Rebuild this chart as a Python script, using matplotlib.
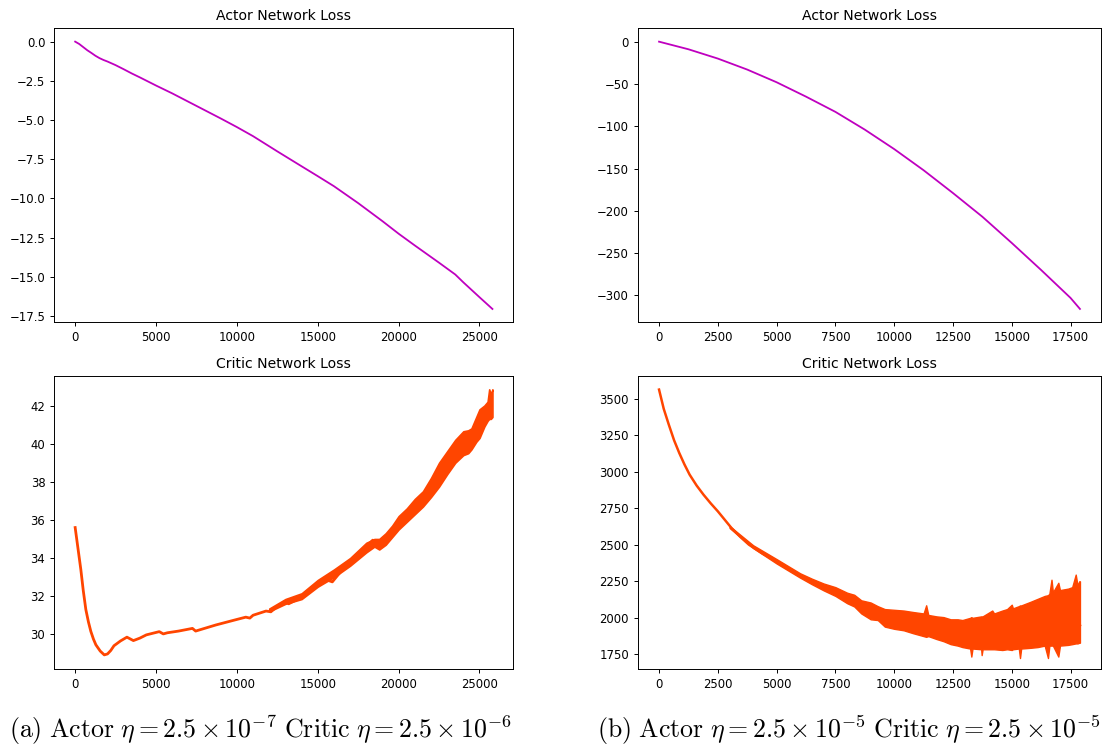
import numpy as np
import matplotlib
matplotlib.use("Agg")
import matplotlib.pyplot as plt
from matplotlib.ticker import MultipleLocator

plt.rcParams['mathtext.fontset'] = 'cm'

# ---- (a) actor loss
actor_a_x = [0, 250, 500, 750, 1000, 1250, 1500, 1750, 2000, 2500, 3000, 3500, 4000, 5000,
             6000, 7500, 9000, 10000, 11000, 12500, 14000, 15000, 16000, 17500, 19000,
             20000, 21000, 22500, 23500, 24000, 25000, 25800]
actor_a_y = [0, -0.15, -0.35, -0.55, -0.72, -0.9, -1.05, -1.17, -1.27, -1.5, -1.76, -2.03,
             -2.28, -2.8, -3.3, -4.1, -4.9, -5.45, -6.03, -7.0, -7.95, -8.58, -9.22, -10.3,
             -11.45, -12.25, -13.0, -14.1, -14.85, -15.35, -16.3, -17.05]

# ---- (b) actor loss
actor_b_x = [0, 1250, 2500, 3750, 5000, 6250, 7500, 8750, 10000, 11250, 12500, 13750, 15000,
             16250, 17500, 17900]
actor_b_y = [0, -9, -20, -33, -48, -65, -83, -104, -127, -152, -179, -207, -238, -270, -303,
             -316]

# ---- (a) critic loss, centre line
critic_a_x = [0, 175, 350, 500, 660, 820, 970, 1130, 1280, 1550, 1800, 2000, 2200, 2400,
              2800, 3200, 3600, 4000, 4400, 5200, 5450, 5700, 6400, 7250, 7450, 8700, 10000,
              10550, 10800, 11000, 11800, 12100, 12400, 13000, 13200, 13450, 14000, 15000,
              15600, 15900, 16750, 17600, 18400, 18800, 19000, 20000, 21300, 22500, 23750,
              25000, 25700]
critic_a_y = [35.6, 34.5, 33.4, 32.3, 31.3, 30.65, 30.15, 29.75, 29.45, 29.12, 28.92, 28.97,
              29.15, 29.4, 29.65, 29.85, 29.67, 29.8, 29.97, 30.14, 30.02, 30.08, 30.17, 30.31,
              30.17, 30.49, 30.78, 30.9, 30.85, 31.0, 31.22, 31.18, 31.4, 31.71, 31.6, 31.71,
              31.95, 32.67, 32.84, 32.75, 33.63, 34.24, 34.94, 34.6, 34.7, 35.9, 37.03, 38.42,
              39.82, 41.1, 42.0]
# noisy band (lower / upper envelope)
band_a_x = [12000, 13000, 14000, 15000, 16000, 17000, 18000, 18500, 18800, 19200, 19600,
            20000, 20500, 21000, 21500, 22000, 22500, 23000, 23500, 24000, 24300, 24500,
            24800, 25000, 25300, 25500, 25600, 25700, 25800]
band_a_lo = [31.2, 31.6, 31.85, 32.5, 33.0, 33.6, 34.3, 34.6, 34.45, 34.7, 35.1, 35.5, 35.9,
             36.3, 36.7, 37.2, 37.75, 38.4, 39.0, 39.4, 39.5, 39.7, 40.1, 40.3, 40.9, 41.2,
             41.3, 41.3, 41.4]
band_a_hi = [31.35, 31.85, 32.15, 32.85, 33.4, 34.0, 34.8, 35.0, 35.0, 35.3, 35.7, 36.2,
             36.6, 37.1, 37.5, 38.2, 39.0, 39.6, 40.2, 40.65, 40.7, 40.8, 41.4, 41.8, 42.0,
             42.2, 42.85, 42.6, 42.85]

# ---- (b) critic loss, centre line
critic_b_x = [0, 200, 415, 640, 860, 1080, 1300, 1600, 1890, 2200, 2500, 2800, 3080, 3450,
              3820, 4400, 5000, 5500, 6035, 6750, 7500, 8100, 8700, 9300, 10000, 10600, 11210,
              11850, 12500, 13100, 13730, 14350, 15000, 15600, 16240, 16900, 17500, 17900]
critic_b_y = [3562, 3430, 3322, 3215, 3128, 3050, 2980, 2905, 2843, 2783, 2729, 2670, 2615,
              2555, 2501, 2440, 2387, 2335, 2284, 2230, 2181, 2130, 2079, 2040, 2010, 1985,
              1965, 1940, 1920, 1905, 1896, 1893, 1896, 1905, 1920, 1925, 1930, 1950]
band_b_x = [3000, 4000, 5000, 6000, 6500, 7000, 7500, 8000, 8300, 8600, 9000, 9300, 9600,
            10000, 10400, 10800, 11250, 11360, 11450, 11800, 12100, 12400, 12700, 12900,
            13230, 13280, 13330, 13700, 13720, 13760, 14170, 14250, 14600, 14800, 15000,
            15050, 15300, 15350, 15400, 15800, 16100, 16400, 16540, 16600, 16690, 16750,
            16980, 17050, 17400, 17570, 17720, 17800, 17870, 17900]
band_b_lo = [2615, 2478, 2372, 2275, 2230, 2188, 2150, 2100, 2078, 2030, 1990, 1985, 1940,
             1925, 1915, 1895, 1875, 1870, 1875, 1855, 1840, 1820, 1810, 1800, 1790, 1735,
             1790, 1785, 1745, 1785, 1785, 1785, 1780, 1785, 1780, 1785, 1790, 1725, 1790,
             1795, 1800, 1810, 1725, 1810, 1810, 1810, 1735, 1810, 1815, 1820, 1825, 1825,
             1830, 1830]
band_b_hi = [2628, 2497, 2402, 2305, 2268, 2235, 2210, 2172, 2158, 2120, 2105, 2080, 2060,
             2055, 2050, 2040, 2030, 2086, 2020, 2010, 2005, 1990, 1990, 1985, 2000, 2005,
             2000, 2010, 2010, 2010, 2050, 2030, 2050, 2060, 2090, 2065, 2080, 2085, 2085,
             2110, 2130, 2150, 2155, 2165, 2261, 2175, 2240, 2190, 2200, 2210, 2296, 2220,
             2250, 2250]

captions = [r"$\mathrm{(a)\ Actor}\ \eta = 2.5 \times 10^{-7}\ \mathrm{Critic}\ \eta = 2.5 \times 10^{-6}$",
            r"$\mathrm{(b)\ Actor}\ \eta = 2.5 \times 10^{-5}\ \mathrm{Critic}\ \eta = 2.5 \times 10^{-5}$"]

actor_c = '#bf00bf'
critic_c = '#ff4500'

fig = plt.figure(figsize=(11.04, 7.46), dpi=100)
W, H = 1104, 746

def box(l, t, r, b):
    return [l / W, 1 - b / H, (r - l) / W, (b - t) / H]

ax1 = fig.add_axes(box(54.3, 28.3, 513.3, 322.3))
ax2 = fig.add_axes(box(54.3, 376, 513.3, 669))
ax3 = fig.add_axes(box(638, 28.3, 1101, 322.3))
ax4 = fig.add_axes(box(638, 376, 1101, 669))

ax1.plot(actor_a_x, actor_a_y, color=actor_c, lw=1.3)
ax3.plot(actor_b_x, actor_b_y, color=actor_c, lw=1.3)

ax2.plot(critic_a_x, critic_a_y, color=critic_c, lw=2.0)
ax2.fill_between(band_a_x, band_a_lo, band_a_hi, color=critic_c, lw=1.2, edgecolor=critic_c)

ax4.plot(critic_b_x, critic_b_y, color=critic_c, lw=1.8)
ax4.fill_between(band_b_x, band_b_lo, band_b_hi, color=critic_c, lw=1.0, edgecolor=critic_c)

for ax in (ax1, ax3):
    ax.set_title("Actor Network Loss", fontsize=10.1)
for ax in (ax2, ax4):
    ax.set_title("Critic Network Loss", fontsize=10.1)

ax1.set_xlim(-1290, 27090)
ax2.set_xlim(-1290, 27090)
ax3.set_xlim(-895, 18795)
ax4.set_xlim(-895, 18795)
ax1.set_ylim(-17.9, 0.85)
ax2.set_ylim(28.18, 43.55)
ax3.set_ylim(-331.8, 15.8)
ax4.set_ylim(1650, 3655)

ax1.yaxis.set_major_locator(MultipleLocator(2.5))
ax2.yaxis.set_major_locator(MultipleLocator(2))
ax3.yaxis.set_major_locator(MultipleLocator(50))
ax4.yaxis.set_major_locator(MultipleLocator(250))
for ax in (ax1, ax2):
    ax.xaxis.set_major_locator(MultipleLocator(5000))
for ax in (ax3, ax4):
    ax.xaxis.set_major_locator(MultipleLocator(2500))

for ax in (ax1, ax2, ax3, ax4):
    ax.tick_params(labelsize=8.4, length=3, width=0.7)
    for s in ax.spines.values():
        s.set_linewidth(0.7)

fig.text(260 / W, 1 - 730 / H, captions[0], ha='center', va='center', fontsize=18.6)
fig.text(849 / W, 1 - 730 / H, captions[1], ha='center', va='center', fontsize=18.6)

fig.savefig("out.png", dpi=100)
